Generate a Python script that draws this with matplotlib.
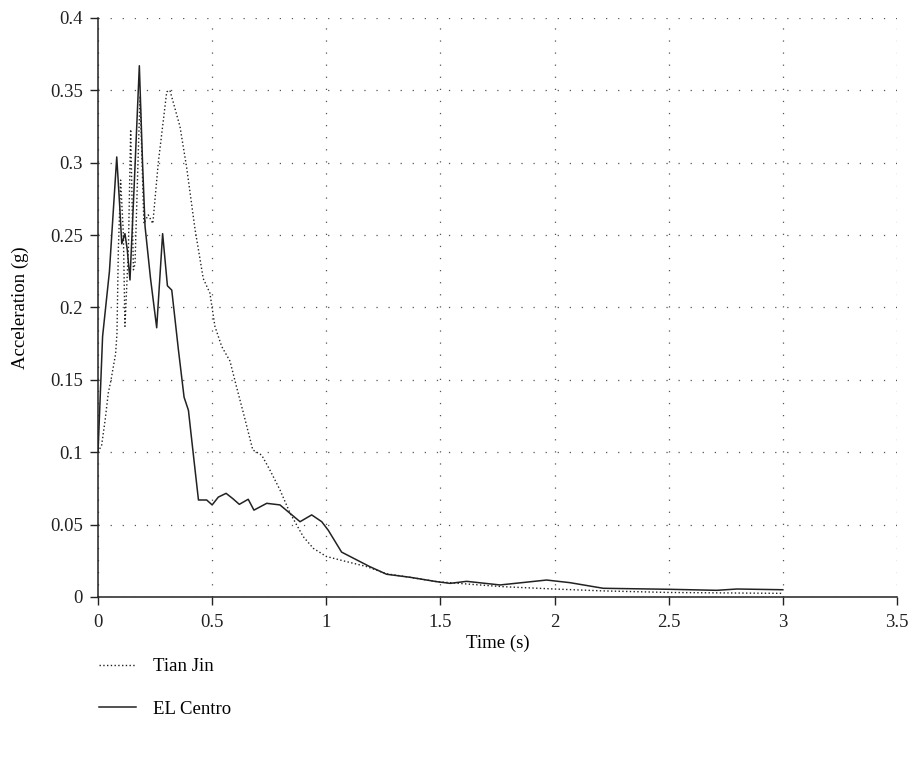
import matplotlib
matplotlib.use("Agg")
import matplotlib.pyplot as plt

# 数据：时间 (s) 与加速度 (g)
t_tianjin = [0, 0.016, 0.031, 0.045, 0.057, 0.067, 0.077, 0.083, 0.089, 0.099,
             0.111, 0.118, 0.133, 0.143, 0.155, 0.162, 0.175, 0.184, 0.201, 0.22,
             0.24, 0.264, 0.301, 0.315, 0.359, 0.388, 0.425, 0.461, 0.49, 0.512,
             0.542, 0.578, 0.607, 0.637, 0.678, 0.717, 0.753, 0.797, 0.841, 0.899,
             0.943, 1.0, 1.089, 1.177, 1.264, 1.367, 1.483, 1.629, 1.775, 1.999,
             2.213, 2.505, 2.75, 3.0]
a_tianjin = [0.1, 0.105, 0.122, 0.141, 0.15, 0.159, 0.168, 0.182, 0.24, 0.288,
             0.251, 0.187, 0.24, 0.323, 0.226, 0.23, 0.3, 0.346, 0.258, 0.264,
             0.258, 0.30, 0.349, 0.350, 0.325, 0.297, 0.254, 0.22, 0.21, 0.187,
             0.173, 0.163, 0.145, 0.127, 0.1016, 0.098, 0.0877, 0.074, 0.058, 0.0417,
             0.0336, 0.028, 0.0244, 0.021, 0.016, 0.0136, 0.0106, 0.0088, 0.0071, 0.0055,
             0.0042, 0.0031, 0.0028, 0.0025]

t_elcentro = [0, 0.02, 0.05, 0.082, 0.095, 0.104, 0.118, 0.128, 0.140, 0.16,
              0.181, 0.195, 0.206, 0.23, 0.257, 0.283, 0.304, 0.323, 0.352, 0.377,
              0.396, 0.42, 0.44, 0.476, 0.50, 0.527, 0.561, 0.59, 0.619, 0.658,
              0.683, 0.739, 0.797, 0.841, 0.885, 0.936, 0.98, 1.009, 1.067, 1.19,
              1.264, 1.367, 1.483, 1.542, 1.615, 1.761, 1.965, 2.067, 2.213, 2.505,
              2.71, 2.8, 3.0]
a_elcentro = [0.1, 0.18, 0.225, 0.304, 0.27, 0.244, 0.251, 0.24, 0.219, 0.29,
              0.367, 0.3, 0.256, 0.22, 0.186, 0.251, 0.215, 0.212, 0.171, 0.138,
              0.129, 0.095, 0.067, 0.067, 0.0636, 0.069, 0.0716, 0.068, 0.064, 0.0675,
              0.060, 0.0647, 0.0636, 0.0578, 0.052, 0.0567, 0.052, 0.046, 0.031, 0.021,
              0.0157, 0.0136, 0.0106, 0.0094, 0.0108, 0.0083, 0.0117, 0.0099, 0.006, 0.0053,
              0.0046, 0.0055, 0.005]

x_ticks = [0, 0.5, 1, 1.5, 2, 2.5, 3, 3.5]
x_labels = ["0", "0.5", "1", "1.5", "2", "2.5", "3", "3.5"]
y_ticks = [0, 0.05, 0.1, 0.15, 0.2, 0.25, 0.3, 0.35, 0.4]
y_labels = ["0", "0.05", "0.1", "0.15", "0.2", "0.25", "0.3", "0.35", "0.4"]

plt.rcParams['font.family'] = ['Liberation Serif', 'DejaVu Serif']
plt.rcParams['font.size'] = 13.5
plt.rcParams['lines.scale_dashes'] = False

fig = plt.figure(figsize=(9.11, 7.69), dpi=100)
ax = fig.add_axes([0.1076, 0.2237, 0.877, 0.7529])

ax.plot(t_tianjin, a_tianjin, color='#222222', linestyle=(0, (1.0, 1.7)), linewidth=1.0, label='Tian Jin')
ax.plot(t_elcentro, a_elcentro, color='#222222', linestyle='-', linewidth=1.1, label='EL Centro')

ax.set_xlim(0, 3.5)
ax.set_ylim(0, 0.4)
ax.set_xticks(x_ticks, x_labels)
ax.set_yticks(y_ticks, y_labels)
ax.tick_params(direction='out', length=6, width=1, colors='#222222', labelsize=13.5)
ax.tick_params(axis='x', pad=6)
ax.tick_params(axis='y', pad=5)

for s in ['top', 'right']:
    ax.spines[s].set_visible(False)
for s in ['left', 'bottom']:
    ax.spines[s].set_linewidth(1.1)
    ax.spines[s].set_color('#222222')

# 稀疏点状网格
ax.grid(True, color='#555555', linestyle=(0, (0.9, 7.8)), linewidth=0.9)
ax.set_axisbelow(True)

ax.set_xlabel('Time (s)', fontsize=13.5, labelpad=3)
ax.set_ylabel('Acceleration (g)', fontsize=13.5, labelpad=15)

fig.legend(loc='upper left', bbox_to_anchor=(0.09, 0.166), frameon=False,
           handlelength=2.0, handletextpad=0.9, labelspacing=1.35, fontsize=13.5)

fig.savefig('out.png', dpi=100)
